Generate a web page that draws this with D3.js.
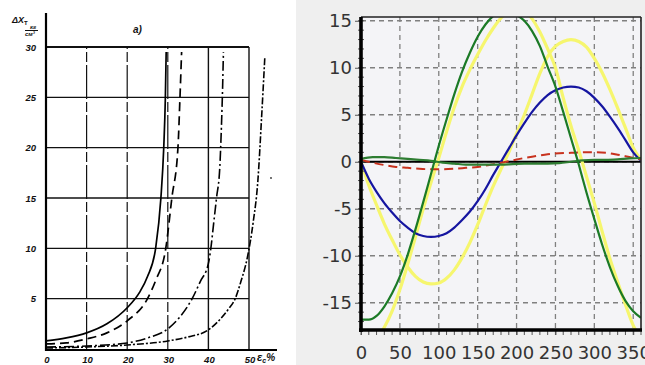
<!DOCTYPE html>
<html><head><meta charset="utf-8">
<script src="https://cdn.jsdelivr.net/npm/d3@7"></script>
<style>body{margin:0;background:#fff}svg{display:block}</style>
</head><body><svg id="c" width="645" height="365"></svg>
<script>
// ---------- left chart (scanned plot) data ----------
const leftXTicks = [0, 10, 20, 30, 40, 50];
const leftYTicks = [5, 10, 15, 20, 25, 30];
const solidX = [0, 5, 10, 15, 20, 23, 25, 27, 28.3, 29, 29.4, 29.6];
const solidY = [0.8, 1.1, 1.6, 2.5, 4.1, 5.6, 7.2, 10, 15, 20, 25, 29.5];
const dashX = [0, 5, 10, 15, 20, 25, 27, 29.5, 31, 32.5, 33, 33.4];
const dashY = [0.5, 0.6, 1.0, 1.6, 2.8, 5, 6.8, 10, 15, 20, 25, 29.5];
const dashDotX = [0, 10, 20, 25, 30, 33, 36, 38, 40, 40.6, 41.3, 42, 42.8, 43.2, 43.5, 43.7];
const dashDotY = [0.2, 0.3, 0.6, 1.1, 2.0, 3.2, 5, 6.7, 8.5, 10, 12.5, 15, 18, 22, 26, 29.5];
const crossX = [0, 10, 20, 30, 35, 40, 43, 45, 46.6, 48, 49.6, 51, 52.2, 53.1, 53.9];
const crossY = [0.1, 0.2, 0.4, 0.8, 1.2, 1.9, 3, 4, 5, 6.7, 9.1, 12.5, 16.8, 23, 29];

// ---------- right chart data ----------
const angles = [0,10,20,30,40,50,60,70,80,90,100,110,120,130,140,150,160,170,180,190,200,210,220,230,240,250,260,270,280,290,300,310,320,330,340,350,360];
const greenMain = [-16.8,-16.8,-16.4,-15.4,-14.0,-12.2,-9.9,-7.2,-4.3,-1.3,1.7,4.5,7.2,9.6,11.6,13.3,14.6,15.5,15.9,15.9,15.6,15.0,13.9,12.3,10.1,8.0,5.3,2.5,-0.3,-3.3,-6.1,-8.8,-11.2,-13.2,-14.8,-15.9,-16.6];
const yellowA = [-19.5,-19.6,-18.8,-17.6,-15.9,-13.6,-10.9,-8.0,-5.0,-2.2,0.4,3.2,5.8,8.0,9.8,11.4,12.9,14.2,15.3,16.0,16.2,16.0,15.2,13.8,12.0,10.0,6.8,3.8,1.2,-1.6,-4.4,-7.4,-10.3,-12.8,-15.2,-17.4,-18.8];
const yellowB = [0,-2.5,-4.6,-6.6,-8.3,-9.9,-11.2,-12.2,-12.8,-13.0,-12.9,-12.4,-11.5,-10.2,-8.6,-6.7,-4.6,-2.6,-0.8,1.0,3.0,5.0,7.2,9.4,11.2,12.3,12.8,13.0,12.8,12.2,11.0,9.5,7.7,5.7,3.6,1.5,0.2];
const blueS = [0,-1.8,-3.2,-4.4,-5.4,-6.3,-7.0,-7.6,-7.9,-8.0,-7.9,-7.6,-7.0,-6.2,-5.3,-4.2,-2.9,-1.4,0,1.4,2.8,4.1,5.3,6.3,7.1,7.6,7.9,8.0,7.9,7.5,6.8,5.9,4.8,3.6,2.3,1.0,0.1];
const anglesFine = [0,15,30,45,60,75,90,105,120,135,150,165,180,195,210,225,240,255,270,285,300,315,330,345,360];
const redS = [0.2,-0.1,-0.35,-0.55,-0.65,-0.75,-0.8,-0.8,-0.75,-0.65,-0.55,-0.35,-0.1,0.15,0.4,0.6,0.8,0.9,0.95,1.0,1.0,0.95,0.75,0.5,0.25];
const greenSmall = [0.3,0.5,0.5,0.4,0.3,0.2,0.1,-0.1,-0.2,-0.3,-0.3,-0.3,-0.3,-0.25,-0.2,-0.2,-0.2,-0.15,0.0,0.15,0.2,0.2,0.25,0.35,0.4];
const rightXTicks = [0, 50, 100, 150, 200, 250, 300, 350];
const rightYTicks = [-15, -10, -5, 0, 5, 10, 15];

const svg = d3.select("#c");
svg.append("rect").attr("width", 645).attr("height", 365).attr("fill", "#fff");

// ================= LEFT CHART =================
const xL = d3.scaleLinear().domain([0, 50]).range([46, 249]);
const yL = d3.scaleLinear().domain([0, 30]).range([349, 47]);
const L = svg.append("g");

// grid
leftYTicks.forEach(v => {
  L.append("line").attr("x1", xL(0)).attr("x2", xL(50)).attr("y1", yL(v)).attr("y2", yL(v))
    .attr("stroke", "#111").attr("stroke-width", v === 30 ? 1.8 : 1.4);
});
leftXTicks.filter(v => v > 0).forEach(v => {
  L.append("line").attr("x1", xL(v)).attr("x2", xL(v)).attr("y1", yL(0)).attr("y2", yL(30))
    .attr("stroke", "#111").attr("stroke-width", v >= 40 ? 1.4 : 1.2)
    .attr("stroke-dasharray", v <= 30 ? "34,3,10,3" : null);
});
// axes
L.append("line").attr("x1", xL(0)).attr("x2", xL(0)).attr("y1", 13).attr("y2", 351)
  .attr("stroke", "#000").attr("stroke-width", 2.2);
L.append("line").attr("x1", xL(0) - 1).attr("x2", 277).attr("y1", yL(0) + 1).attr("y2", yL(0) + 1)
  .attr("stroke", "#000").attr("stroke-width", 2.2);

const lineL = d3.line().x(d => xL(d[0])).y(d => yL(d[1])).curve(d3.curveMonotoneX);
const zipL = (xs, ys) => xs.map((x, i) => [x, ys[i]]);
L.append("path").attr("d", lineL(zipL(solidX, solidY))).attr("fill", "none")
  .attr("stroke", "#000").attr("stroke-width", 1.7);
L.append("path").attr("d", lineL(zipL(dashX, dashY))).attr("fill", "none")
  .attr("stroke", "#000").attr("stroke-width", 1.7).attr("stroke-dasharray", "9,5");
L.append("path").attr("d", lineL(zipL(dashDotX, dashDotY))).attr("fill", "none")
  .attr("stroke", "#000").attr("stroke-width", 1.6).attr("stroke-dasharray", "10,3,2,3");
L.append("path").attr("d", lineL(zipL(crossX, crossY))).attr("fill", "none")
  .attr("stroke", "#000").attr("stroke-width", 1.6).attr("stroke-dasharray", "7,2,2,2");

// tick labels
const lblStyle = s => s.attr("font-family", "Liberation Sans, Arial, sans-serif")
  .attr("font-style", "italic").attr("font-weight", "bold").attr("font-size", 9.5).attr("fill", "#111");
leftYTicks.forEach(v => {
  L.append("text").attr("x", 36).attr("y", yL(v) + 3.5).attr("text-anchor", "end").text(v).call(lblStyle);
});
leftXTicks.forEach(v => {
  L.append("text").attr("x", xL(v) + 1).attr("y", 363).attr("text-anchor", "middle").text(v).call(lblStyle);
});
const dl = L.append("text").attr("x", 12).attr("y", 23).call(lblStyle).attr("font-size", 9);
dl.append("tspan").text("ΔX");
dl.append("tspan").attr("font-size", 6).attr("font-style", "normal").attr("dy", 2).text("Т");
L.append("text").attr("x", 30).attr("y", 29).text("кг").call(lblStyle).attr("font-size", 6);
L.append("line").attr("x1", 25).attr("x2", 38).attr("y1", 30.5).attr("y2", 30.5).attr("stroke", "#111").attr("stroke-width", 1);
L.append("text").attr("x", 25).attr("y", 36).text("см³").call(lblStyle).attr("font-size", 6);
L.append("text").attr("x", 133).attr("y", 33).text("а)").call(lblStyle).attr("font-size", 10);
const el = L.append("text").attr("x", 257).attr("y", 361).call(lblStyle).attr("font-size", 11);
el.append("tspan").text("ε");
el.append("tspan").attr("font-size", 7).attr("dy", 2).text("c");
el.append("tspan").attr("font-size", 10).attr("dy", -2).text("%");
L.append("circle").attr("cx", 271).attr("cy", 178).attr("r", 0.9).attr("fill", "#333");

// ================= RIGHT CHART =================
const R = svg.append("g");
R.append("rect").attr("x", 296).attr("y", 0).attr("width", 349).attr("height", 365).attr("fill", "#efefef");
const xR = d3.scaleLinear().domain([0, 360]).range([361, 641]);
const yR = d3.scaleLinear().domain([-17.9, 15.4]).range([330, 17]);
R.append("rect").attr("x", xR(0)).attr("y", yR(15.4)).attr("width", xR(360) - xR(0))
  .attr("height", yR(-17.9) - yR(15.4)).attr("fill", "#f4f4f7");

R.append("clipPath").attr("id", "clipR").append("rect")
  .attr("x", xR(0)).attr("y", yR(15.4)).attr("width", xR(360) - xR(0)).attr("height", yR(-17.9) - yR(15.4));

// grid
rightXTicks.filter(v => v > 0).forEach(v => {
  R.append("line").attr("x1", xR(v)).attr("x2", xR(v)).attr("y1", yR(15.4)).attr("y2", yR(-17.9))
    .attr("stroke", "#808080").attr("stroke-width", 1.3).attr("stroke-dasharray", "5,4");
});
rightYTicks.forEach(v => {
  R.append("line").attr("x1", xR(0)).attr("x2", xR(360)).attr("y1", yR(v)).attr("y2", yR(v))
    .attr("stroke", "#808080").attr("stroke-width", 1.3).attr("stroke-dasharray", "5,4");
});
// zero line
R.append("line").attr("x1", xR(0)).attr("x2", xR(360)).attr("y1", yR(0)).attr("y2", yR(0))
  .attr("stroke", "#000").attr("stroke-width", 2.2);

const plot = R.append("g").attr("clip-path", "url(#clipR)");
const lineR = d3.line().x(d => xR(d[0])).y(d => yR(d[1])).curve(d3.curveMonotoneX);
const zipR = (xs, ys) => xs.map((x, i) => [x, ys[i]]);
const drawR = (xs, ys, col, w, dash) => plot.append("path").attr("d", lineR(zipR(xs, ys)))
  .attr("fill", "none").attr("stroke", col).attr("stroke-width", w).attr("stroke-dasharray", dash || null);

drawR(angles, yellowB, "#f6f66e", 3.2);
drawR(angles, yellowA, "#f6f66e", 3.2);
drawR(angles, blueS, "#1515a0", 2.2);
drawR(anglesFine, redS, "#c8321e", 2, "9,5");
drawR(anglesFine, greenSmall, "#2e7d32", 2.2);
drawR(angles, greenMain, "#1b7a26", 2.2);

// frame
R.append("line").attr("x1", xR(0)).attr("x2", xR(360)).attr("y1", yR(15.4)).attr("y2", yR(15.4))
  .attr("stroke", "#222").attr("stroke-width", 1.4);
R.append("line").attr("x1", xR(360)).attr("x2", xR(360)).attr("y1", yR(15.4)).attr("y2", yR(-17.9))
  .attr("stroke", "#222").attr("stroke-width", 1.6);

// minor ticks
xR.ticks(36).forEach(v => {
  R.append("line").attr("x1", xR(v)).attr("x2", xR(v)).attr("y1", yR(-17.9)).attr("y2", yR(-17.9) + 5)
    .attr("stroke", "#555").attr("stroke-width", 1);
});
yR.ticks(33).forEach(v => {
  R.append("line").attr("x1", xR(0) - 3).attr("x2", xR(0) + 3).attr("y1", yR(v)).attr("y2", yR(v))
    .attr("stroke", "#555").attr("stroke-width", 1);
});

// axes
const ax = R.append("g").attr("transform", `translate(0,${yR(-17.9)})`)
  .call(d3.axisBottom(xR).tickValues(rightXTicks).tickSize(5).tickPadding(11));
const ay = R.append("g").attr("transform", `translate(${xR(0)},0)`)
  .call(d3.axisLeft(yR).tickValues(rightYTicks).tickSize(6).tickPadding(3));
[ax, ay].forEach(g => {
  g.select(".domain").remove();
  g.selectAll(".tick line").attr("stroke", "#555");
  g.selectAll("text").attr("font-family", "DejaVu Sans, sans-serif").attr("font-size", 18).attr("fill", "#333");
});
ay.selectAll("text").text(d => d < 0 ? "-" + Math.abs(d) : d);

R.append("line").attr("x1", xR(0)).attr("x2", xR(0)).attr("y1", yR(15.4)).attr("y2", yR(-17.9) + 2)
  .attr("stroke", "#000").attr("stroke-width", 3.6);
R.append("line").attr("x1", xR(0) - 2).attr("x2", xR(360) + 1).attr("y1", yR(-17.9)).attr("y2", yR(-17.9))
  .attr("stroke", "#000").attr("stroke-width", 3.6);
</script></body></html>
